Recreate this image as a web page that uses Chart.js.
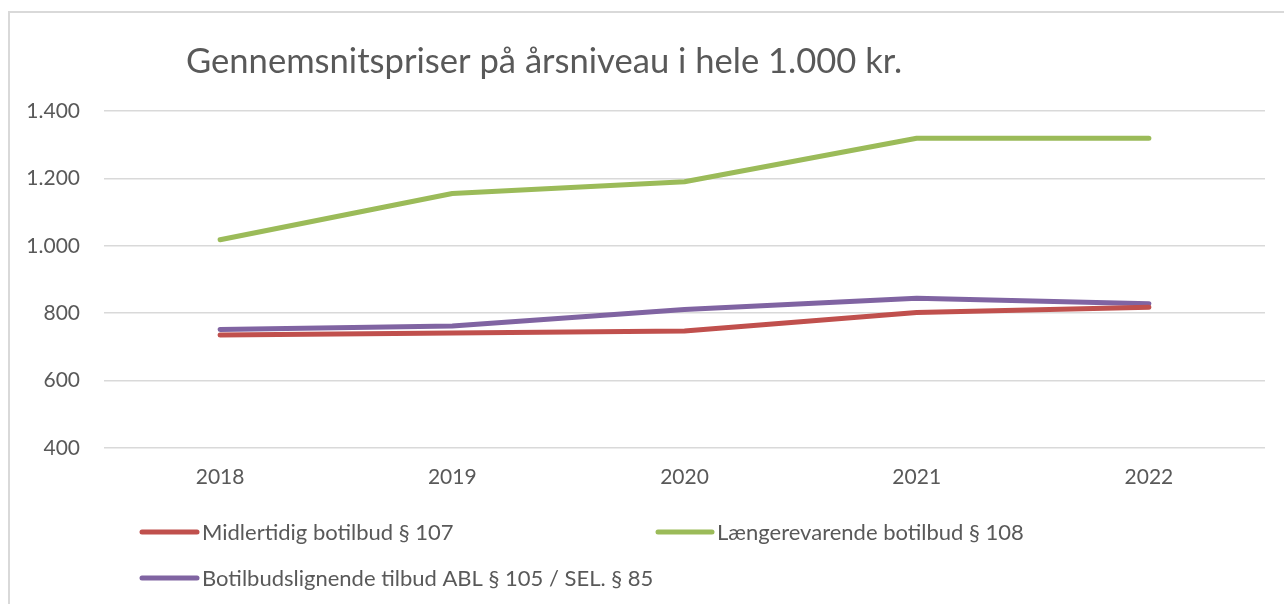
<!DOCTYPE html>
<html>
<head>
<meta charset="utf-8">
<script src="https://cdn.jsdelivr.net/npm/chart.js@4/dist/chart.umd.min.js"></script>
<style>
  body { margin: 0; background: #fff; }
  #wrap { position: relative; width: 1284px; height: 604px; }
  #frame { position: absolute; left: 8px; top: 11px; width: 1290px; height: 610px;
           border-left: 2px solid #d9d9d9; border-top: 2px solid #d9d9d9; }
  canvas { position: absolute; left: 0; top: 0; }
</style>
</head>
<body>
<div id="wrap">
  <div id="frame"></div>
  <canvas id="chart" width="1284" height="604"></canvas>
</div>
<script>
// data
var years = ["2018", "2019", "2020", "2021", "2022"];
var midlertidig = [735, 741, 747, 802, 818];
var laengerevarende = [1018, 1155, 1190, 1319, 1319];
var botilbudslignende = [752, 762, 811, 844, 828];
var seriesNames = [
  "Midlertidig botilbud § 107",
  "Længerevarende botilbud § 108",
  "Botilbudslignende tilbud ABL § 105 / SEL. § 85"
];
var titleText = "Gennemsnitspriser på årsniveau i hele 1.000 kr.";

var FONT = "Lato, 'Open Sans', sans-serif";
var TEXT = "#595959";

function fmt(v) {
  // danish thousands separator
  return String(v).replace(/\B(?=(\d{3})+(?!\d))/g, ".");
}

// title + legend laid out like the office chart
var decorPlugin = {
  id: "decor",
  afterDraw: function(chart) {
    var ctx = chart.ctx;
    ctx.save();
    ctx.fillStyle = TEXT;
    ctx.font = "34.6px " + FONT;
    ctx.textBaseline = "alphabetic";
    ctx.textAlign = "left";
    ctx.fillText(titleText, 186, 73);

    var slots = [
      { x1: 142, x2: 197, y: 532 },
      { x1: 658, x2: 712, y: 532 },
      { x1: 142, x2: 197, y: 578 }
    ];
    ctx.font = "22px " + FONT;
    chart.data.datasets.forEach(function(ds, i) {
      var s = slots[i];
      ctx.strokeStyle = ds.borderColor;
      ctx.lineWidth = 5;
      ctx.lineCap = "round";
      ctx.beginPath();
      ctx.moveTo(s.x1, s.y);
      ctx.lineTo(s.x2, s.y);
      ctx.stroke();
      ctx.fillStyle = TEXT;
      ctx.fillText(ds.label, s.x2 + 5, s.y + 8);
    });
    ctx.restore();
  }
};

function line(label, data, color) {
  return {
    label: label,
    data: data,
    borderColor: color,
    backgroundColor: color,
    borderWidth: 5,
    borderCapStyle: "round",
    borderJoinStyle: "round",
    pointRadius: 0,
    tension: 0,
    fill: false
  };
}

var ctx = document.getElementById("chart").getContext("2d");
var chart = new Chart(ctx, {
  type: "line",
  data: {
    labels: years,
    datasets: [
      line(seriesNames[0], midlertidig, "#C0504D"),
      line(seriesNames[1], laengerevarende, "#9BBB59"),
      line(seriesNames[2], botilbudslignende, "#8064A2")
    ]
  },
  plugins: [decorPlugin],
  options: {
    responsive: false,
    animation: false,
    layout: { padding: { top: 111, right: 19, left: 0, bottom: 0 } },
    plugins: {
      legend: { display: false },
      title: { display: false },
      tooltip: { enabled: false }
    },
    scales: {
      x: {
        offset: true,
        grid: { display: false, drawTicks: false },
        border: { display: false },
        ticks: { color: TEXT, font: { family: FONT, size: 21 }, padding: 17, maxRotation: 0 },
        afterFit: function(scale) { scale.height = 156; }
      },
      y: {
        min: 400,
        max: 1400,
        grid: { color: "#d9d9d9", lineWidth: 1.5, drawTicks: false },
        border: { display: false },
        ticks: {
          stepSize: 200,
          color: TEXT,
          font: { family: FONT, size: 21 },
          padding: 24,
          callback: function(value) { return fmt(value); }
        },
        afterFit: function(scale) { scale.width = 104; }
      }
    }
  }
});
</script>
</body>
</html>
